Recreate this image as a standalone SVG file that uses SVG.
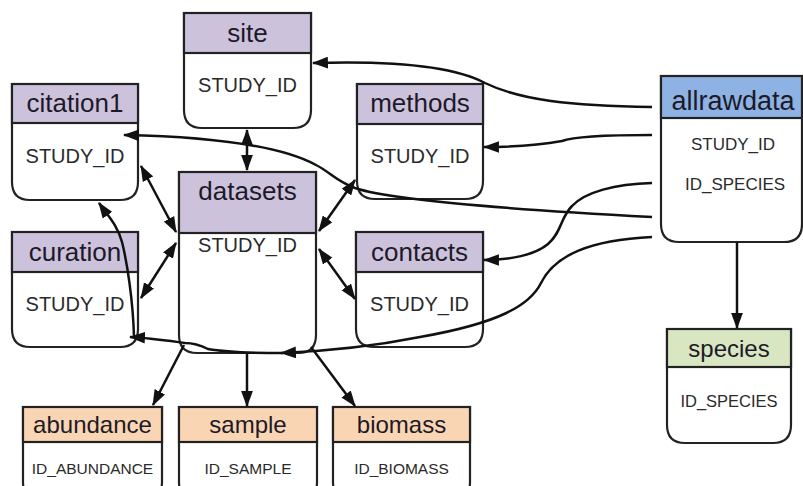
<svg xmlns="http://www.w3.org/2000/svg" width="803" height="486" viewBox="0 0 803 486">
<style>
.box{fill:#fff;stroke:#222;stroke-width:2.2}
.hd{stroke:#222;stroke-width:2.2}
.pu{fill:#cdc2dc}.bl{fill:#8fb2e4}.gr{fill:#d8e6c2}.or{fill:#fad5b3}
.t{font-family:"Liberation Sans",Arial,sans-serif;fill:#1c1a28;text-anchor:middle}
.tp{font-size:26px}.ts{font-size:24px}
.f{font-family:"Liberation Sans",Arial,sans-serif;fill:#2a2a2a;text-anchor:middle}
.f20{font-size:20px}.f17{font-size:17px}.f16{font-size:15.5px}
.e{fill:none;stroke:#111;stroke-width:2.5}
</style>
<defs>
<marker id="ah" markerUnits="userSpaceOnUse" markerWidth="16" markerHeight="12" refX="14" refY="5.5" orient="auto-start-reverse" viewBox="0 0 15 11">
<path d="M0,0 L15,5.5 L0,11 z" fill="#111"/>
</marker>
</defs>

<g id="site">
<path class="box" d="M184 13 H311 V110 Q311 128 293 128 H202 Q184 128 184 110 Z"/>
<rect class="hd pu" x="184" y="13" width="127" height="40"/>
<text class="t tp" x="247.5" y="42">site</text>
<text class="f f20" x="247.5" y="92">STUDY_ID</text>
</g>
<g id="citation1">
<path class="box" d="M12 84 H138 V182 Q138 200 120 200 H30 Q12 200 12 182 Z"/>
<rect class="hd pu" x="12" y="84" width="126" height="39"/>
<text class="t tp" x="75" y="112">citation1</text>
<text class="f f20" x="75" y="163">STUDY_ID</text>
</g>
<g id="methods">
<path class="box" d="M357 84 H483 V181 Q483 199 465 199 H375 Q357 199 357 181 Z"/>
<rect class="hd pu" x="357" y="84" width="126" height="40"/>
<text class="t tp" x="420" y="112">methods</text>
<text class="f f20" x="420" y="163">STUDY_ID</text>
</g>
<g id="datasets">
<path class="box" d="M179 172 H316 V335 Q316 353 298 353 H197 Q179 353 179 335 Z"/>
<rect class="hd pu" x="179" y="172" width="137" height="61"/>
<text class="t tp" x="247.5" y="200">datasets</text>
<text class="f f20" x="247.5" y="252">STUDY_ID</text>
</g>
<g id="curation">
<path class="box" d="M12 232 H138 V329 Q138 347 120 347 H30 Q12 347 12 329 Z"/>
<rect class="hd pu" x="12" y="232" width="126" height="40"/>
<text class="t tp" x="75" y="261">curation</text>
<text class="f f20" x="75" y="311">STUDY_ID</text>
</g>
<g id="contacts">
<path class="box" d="M356 232 H483 V329 Q483 347 465 347 H374 Q356 347 356 329 Z"/>
<rect class="hd pu" x="356" y="232" width="127" height="40"/>
<text class="t tp" x="419.5" y="261">contacts</text>
<text class="f f20" x="419.5" y="311">STUDY_ID</text>
</g>
<g id="allrawdata">
<path class="box" d="M661 76 H802 V224 Q802 242 784 242 H679 Q661 242 661 224 Z"/>
<rect class="hd bl" x="661" y="76" width="141" height="42"/>
<text class="t" style="font-size:27px" x="733" y="110">allrawdata</text>
<text class="f f17" x="733" y="150">STUDY_ID</text>
<text class="f f17" x="735" y="190">ID_SPECIES</text>
</g>
<g id="species">
<path class="box" d="M667 329 H791 V425 Q791 443 773 443 H685 Q667 443 667 425 Z"/>
<rect class="hd gr" x="667" y="329" width="124" height="38"/>
<text class="t ts" x="729" y="357">species</text>
<text class="f" style="font-size:16.5px" x="729" y="407">ID_SPECIES</text>
</g>
<g id="abundance">
<path class="box" d="M23 407 H162 V482 Q162 500 144 500 H41 Q23 500 23 482 Z"/>
<rect class="hd or" x="23" y="407" width="139" height="35"/>
<text class="t ts" x="92.5" y="433">abundance</text>
<text class="f f16" x="92.5" y="474">ID_ABUNDANCE</text>
</g>
<g id="sample">
<path class="box" d="M179 407 H317 V482 Q317 500 299 500 H197 Q179 500 179 482 Z"/>
<rect class="hd or" x="179" y="407" width="138" height="35"/>
<text class="t ts" x="248" y="433">sample</text>
<text class="f f16" x="248" y="474">ID_SAMPLE</text>
</g>
<g id="biomass">
<path class="box" d="M333 407 H470 V482 Q470 500 452 500 H351 Q333 500 333 482 Z"/>
<rect class="hd or" x="333" y="407" width="137" height="35"/>
<text class="t ts" x="401.5" y="433">biomass</text>
<text class="f f16" x="401.5" y="474">ID_BIOMASS</text>
</g>

<g id="connectors">
<path class="e" d="M247 130 L247 170" marker-start="url(#ah)" marker-end="url(#ah)"/>
<path class="e" d="M141 166 L176 232" marker-start="url(#ah)" marker-end="url(#ah)"/>
<path class="e" d="M176 243 L141 298" marker-start="url(#ah)" marker-end="url(#ah)"/>
<path class="e" d="M355 180 L319 231" marker-start="url(#ah)" marker-end="url(#ah)"/>
<path class="e" d="M319 249 L355 299" marker-start="url(#ah)" marker-end="url(#ah)"/>
<path class="e" d="M184 345 L153 405" marker-end="url(#ah)"/>
<path class="e" d="M247 353 L247 406" marker-end="url(#ah)"/>
<path class="e" d="M311 347 L355 406" marker-end="url(#ah)"/>
<path class="e" d="M737 242 L737 328" marker-end="url(#ah)"/>
<path class="e" d="M652 107 C570 106 520 100 485 83 C450 64 380 61 313 63" marker-end="url(#ah)"/>
<path class="e" d="M652 135 C610 135 575 136 562 141 C540 145 510 147 484 147" marker-end="url(#ah)"/>
<path class="e" d="M652 217 C520 210 390 200 355 188 C336 181 330 172 316 165 C285 148 220 137 124 135" marker-end="url(#ah)"/>
<path class="e" d="M652 183 C615 184 585 192 572 206 C560 218 562 232 548 244 C535 255 510 260 484 260" marker-end="url(#ah)"/>
<path class="e" d="M652 237 C590 240 555 255 541 283 C530 305 500 323 420 337 C380 345 330 351 281 353" marker-end="url(#ah)"/>
<path class="e" d="M283 353 C250 353 225 352 208 349 C200 345 194 343 185 343 C170 341 150 338 130 337" marker-end="url(#ah)"/>
<path class="e" d="M134 337 C133 300 127 262 122 242 C118 226 108 216 99 203" marker-end="url(#ah)"/>
</g>
</svg>
